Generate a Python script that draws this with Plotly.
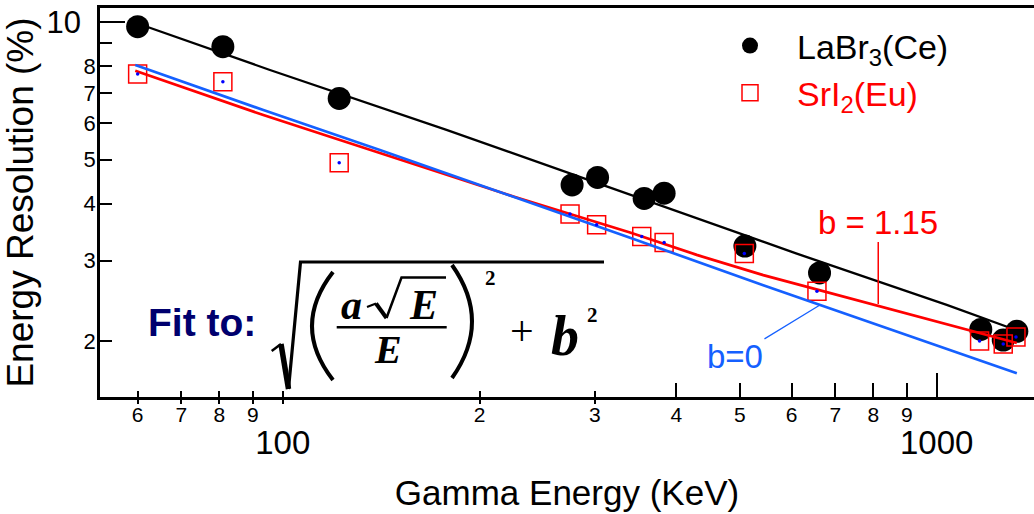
import math
import plotly.graph_objects as go

# ---------------- data ----------------
LABR_E = [60, 81, 122, 277, 303, 357, 383, 509, 662, 1168, 1264, 1326]
LABR_R = [9.78, 8.84, 6.81, 4.40, 4.57, 4.11, 4.22, 3.23, 2.82, 2.12, 2.01, 2.10]

SRI_E = [60, 81, 122, 275, 302, 354, 383, 508, 656, 1163, 1264, 1322]
SRI_R = [7.70, 7.41, 4.92, 3.80, 3.60, 3.39, 3.29, 3.11, 2.57, 2.00, 1.97, 2.04]

FIT_LABR_E = [60, 95.6, 178, 320, 611, 1036, 1322]
FIT_LABR_R = [9.94, 7.86, 5.81, 4.32, 3.11, 2.40, 2.115]

FIT_B115_E = [59.5, 73.9, 93.4, 118.1, 140.8, 225.3, 339.7, 429.6, 543, 819, 1036, 1326]
FIT_B115_R = [7.83, 7.04, 6.26, 5.61, 5.17, 4.15, 3.46, 3.09, 2.79, 2.38, 2.17, 1.98]

FIT_B0_E = [59.5, 93.4, 140.8, 225.3, 339.7, 543, 819, 1326]
FIT_B0_R = [8.06, 6.42, 5.25, 4.15, 3.37, 2.65, 2.16, 1.70]

X_TICKS_LOW = [60, 70, 80, 90, 100, 200, 300]          # short crossing ticks
X_TICKS_HIGH = [400, 500, 600, 700, 800, 900]          # longer inside ticks
X_MINOR_LABEL_VALS = [60, 70, 80, 90, 200, 300, 400, 500, 600, 700, 800, 900]
X_MINOR_LABEL_TXT = ["6", "7", "8", "9", "2", "3", "4", "5", "6", "7", "8", "9"]
X_MAJOR = [100, 1000]
X_MAJOR_TXT = ["100", "1000"]
Y_TICKS = [2, 3, 4, 5, 6, 7, 8, 9]
Y_LABEL_VALS = [2, 3, 4, 5, 6, 7, 8]
Y_LABEL_TXT = ["2", "3", "4", "5", "6", "7", "8"]
Y_MAJOR = [10]
Y_MAJOR_TXT = ["10"]

LABEL_B115 = (814, 2.41)   # where the "b = 1.15" pointer meets the red fit
LABEL_B0 = (663, 2.40)     # where the "b=0" pointer meets the blue fit

X_RANGE = [1.7206, 3.1488]
Y_RANGE = [0.17829, 1.03136]

SANS = "Arial, Liberation Sans, sans-serif"
SERIF = "Times New Roman, Liberation Serif, serif"
RED = "#ff0000"
BLUE = "#1560ff"
NAVY = "#00006e"

# plot-area pixel box (for placing the formula decoration)
PL, PR, PT, PB = 100, 1034, 8, 397


def px(x):
    return (x - PL) / (PR - PL)


def py(y):
    return (PB - y) / (PB - PT)


fig = go.Figure()

fig.add_trace(go.Scatter(x=FIT_LABR_E, y=FIT_LABR_R, mode="lines",
                         line=dict(color="black", width=2.3), showlegend=False, hoverinfo="skip"))
fig.add_trace(go.Scatter(x=LABR_E, y=LABR_R, mode="markers", name="LaBr<sub>3</sub>(Ce)",
                         marker=dict(symbol="circle", size=23, color="black")))
fig.add_trace(go.Scatter(x=SRI_E, y=SRI_R, mode="markers",
                         name='<span style="color:#ff0000">SrI<sub>2</sub>(Eu)</span>',
                         marker=dict(symbol="square-open", size=18, color=RED, line=dict(width=1.5))))
fig.add_trace(go.Scatter(x=FIT_B115_E, y=FIT_B115_R, mode="lines",
                         line=dict(color=RED, width=2.7), showlegend=False, hoverinfo="skip"))
fig.add_trace(go.Scatter(x=FIT_B0_E, y=FIT_B0_R, mode="lines",
                         line=dict(color=BLUE, width=2.7), showlegend=False, hoverinfo="skip"))
fig.add_trace(go.Scatter(x=SRI_E, y=SRI_R, mode="markers",
                         marker=dict(size=3.5, color="#0000ff"), showlegend=False, hoverinfo="skip"))

# carrier traces for the overlay axes (ticks of different lengths / label sizes)
for xa, ya in [("x2", "y"), ("x3", "y"), ("x4", "y"), ("x5", "y"), ("x6", "y"),
               ("x", "y2"), ("x", "y3"), ("x", "y4")]:
    fig.add_trace(go.Scatter(x=[LABR_E[0]], y=[LABR_R[0]], xaxis=xa, yaxis=ya, mode="markers",
                             marker=dict(opacity=0), showlegend=False, hoverinfo="skip"))

base_x = dict(type="log", range=X_RANGE, showgrid=False, zeroline=False, fixedrange=True)
ov_x = dict(**base_x, overlaying="x", anchor="y", side="bottom")
base_y = dict(type="log", range=Y_RANGE, showgrid=False, zeroline=False, fixedrange=True)
ov_y = dict(**base_y, overlaying="y", anchor="x", side="left")
tick = dict(tickwidth=2, tickcolor="black", showticklabels=False)

fig.update_layout(
    width=1034, height=514,
    margin=dict(l=PL, r=1034 - PR, t=PT, b=514 - PB, autoexpand=False),
    paper_bgcolor="white", plot_bgcolor="white",
    font=dict(family=SANS, color="black"),
    xaxis=dict(**base_x, showline=True, linewidth=2.5, linecolor="black", mirror=True,
               tickvals=X_MINOR_LABEL_VALS, ticktext=X_MINOR_LABEL_TXT,
               ticks="", tickfont=dict(size=21), ticklabelstandoff=-3,
               title=dict(text="Gamma Energy (KeV)", font=dict(size=35), standoff=56)),
    xaxis2=dict(**ov_x, tickvals=X_TICKS_LOW, ticks="outside", ticklen=6, **tick),
    xaxis3=dict(**ov_x, tickvals=X_TICKS_LOW, ticks="inside", ticklen=6, **tick),
    xaxis4=dict(**ov_x, tickvals=X_TICKS_HIGH, ticks="inside", ticklen=14, **tick),
    xaxis5=dict(**ov_x, tickvals=[X_MAJOR[1]], ticks="inside", ticklen=24, **tick),
    xaxis6=dict(**ov_x, tickvals=X_MAJOR, ticktext=X_MAJOR_TXT, ticks="",
                tickfont=dict(size=33), ticklabelstandoff=23),
    yaxis=dict(**base_y, showline=True, linewidth=2.5, linecolor="black",
               tickvals=Y_LABEL_VALS, ticktext=Y_LABEL_TXT, ticks="",
               tickfont=dict(size=22), ticklabelstandoff=-3,
               title=dict(text="Energy Resolution (%)", font=dict(size=37), standoff=47)),
    yaxis2=dict(**ov_y, tickvals=Y_TICKS, ticks="inside", ticklen=12, **tick),
    yaxis3=dict(**ov_y, tickvals=Y_MAJOR, ticktext=Y_MAJOR_TXT, ticks="",
                tickfont=dict(size=31), ticklabelstandoff=18),
    yaxis4=dict(**ov_y, tickvals=Y_MAJOR, ticks="inside", ticklen=25, **tick),
    legend=dict(x=px(703), y=py(17), xanchor="left", yanchor="top", bgcolor="rgba(0,0,0,0)",
                font=dict(size=34, family=SANS), itemwidth=84, tracegroupgap=0),
    showlegend=True,
)

# ---------------- pointer labels (log axes take log10 positions) ----------------
fig.add_annotation(x=math.log10(LABEL_B115[0]), y=math.log10(LABEL_B115[1]), xref="x", yref="y",
                   text="b = 1.15", showarrow=True, arrowhead=0, arrowwidth=1.5, arrowcolor=RED,
                   standoff=0, ax=0, ay=-82, font=dict(size=33, color=RED, family=SANS))
fig.add_annotation(x=math.log10(LABEL_B0[0]), y=math.log10(LABEL_B0[1]), xref="x", yref="y",
                   text="b=0", showarrow=True, arrowhead=0, arrowwidth=1.2, arrowcolor=BLUE,
                   standoff=0, ax=-85, ay=52, font=dict(size=33, color=BLUE, family=SANS))


# ---------------- fit formula ----------------
def txt(x, y, s, size, family=SERIF, color="black", xanchor="center"):
    fig.add_annotation(x=px(x), y=py(y), xref="paper", yref="paper", text=s, showarrow=False,
                       xanchor=xanchor, yanchor="middle", borderpad=0,
                       font=dict(size=size, family=family, color=color))


def path(points, width, q=False):
    if not q:
        d = "M " + " L ".join(f"{px(a):.5f},{py(b):.5f}" for a, b in points)
    else:
        (a0, b0), (ac, bc), (a1, b1) = points
        d = f"M {px(a0):.5f},{py(b0):.5f} Q {px(ac):.5f},{py(bc):.5f} {px(a1):.5f},{py(b1):.5f}"
    fig.add_shape(type="path", path=d, xref="paper", yref="paper",
                  line=dict(color="black", width=width))


txt(146.7, 322, "<b>Fit to:</b>", 39, family=SANS, color=NAVY, xanchor="left")
# big radical
path([(271.7, 351), (281, 344)], 2.5)
path([(281, 344), (288.5, 389)], 5.5)
path([(288.5, 389), (300.5, 262), (604, 262)], 3.2)
# parentheses
path([(333, 272), (291, 326), (333, 380)], 4, q=True)
path([(452, 265), (492, 321.5), (452, 378)], 4, q=True)
# numerator a sqrt(E)
txt(351.5, 304.5, "<b><i>a</i></b>", 42)
path([(367, 307), (376, 303.5)], 2)
path([(376, 303.5), (386.5, 318)], 4)
path([(386.5, 318), (401.5, 277.5), (446, 277.5)], 2.5)
txt(423, 304.5, "<b><i>E</i></b>", 42)
# fraction bar and denominator
path([(336.7, 327.3), (446.7, 327.3)], 2.5)
txt(388, 349, "<b><i>E</i></b>", 40)
# exponents, plus, b
txt(490, 278.3, "<b>2</b>", 21)
txt(521.7, 330.5, "+", 42)
txt(565, 336.4, "<b><i>b</i></b>", 56)
txt(592, 315.3, "<b>2</b>", 21)

fig.write_html("out.html", config={"displayModeBar": False},
               post_script="document.body.style.margin='0px';")
